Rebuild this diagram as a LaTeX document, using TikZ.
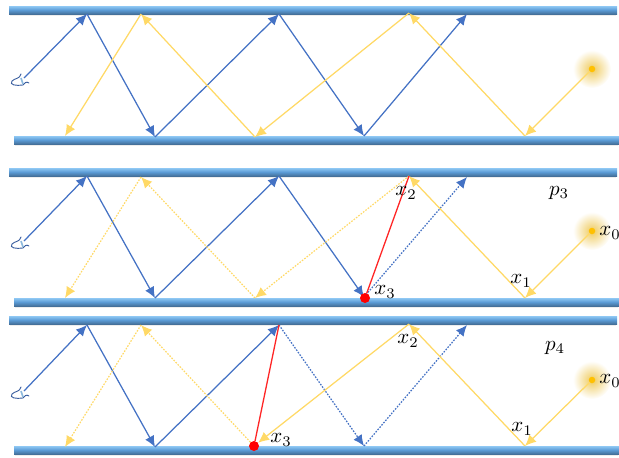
\documentclass[tikz,border=0pt]{standalone}
\usepackage{graphicx}
\usetikzlibrary{arrows.meta,positioning}
\definecolor{ablue}{HTML}{4472C4}
\definecolor{ayel}{HTML}{FFD966}
\definecolor{barmid}{HTML}{5B9BD5}
\definecolor{bartop}{HTML}{8FC8F4}
\definecolor{bardark}{HTML}{44709A}
\definecolor{glow}{HTML}{EFCB5E}
\definecolor{lightc}{HTML}{FFC000}
\tikzset{
  x=1pt,y=-1pt,
  barshade/.style={top color=bartop,bottom color=bardark,middle color=barmid,draw=none,shading angle=0},
  blueray/.style={draw=ablue,line width=1.25pt,-{Latex[length=11pt,width=10pt]}},
  yelray/.style={draw=ayel,line width=1.25pt,-{Latex[length=11pt,width=10pt]}},
  bluedot/.style={blueray,dash pattern=on 1.6pt off 1.4pt},
  yeldot/.style={yelray,dash pattern=on 1.6pt off 1.4pt,line width=1.2pt},
  redray/.style={draw=red!85!white,line width=1.3pt},
  hit/.style={circle,fill=red,inner sep=0pt,minimum size=10pt},
  src/.style={circle,fill=lightc,inner sep=0pt,minimum size=6.5pt},
  lab/.style={inner sep=0pt},
  eyeline/.style={draw=ablue!80!black,line width=.9pt,line cap=round}
}
\newcommand{\wgm}[1]{\scalebox{2.1}{$#1$}}
\newcommand{\wgbar}[4]{% name, x0, x1, ytop
  \fill[black!7] (#2+1,#4+8) rectangle (#3-1,#4+10);
  \shade[barshade] (#2,#4) rectangle (#3,#4+8);
  \coordinate (#1) at (#2,#4);
}
\newcommand{\wgeye}[3]{% name, x, y (point where ray starts)
  \coordinate (#1) at (#2,#3);
  \draw[eyeline] (#2-3,#3-4) .. controls (#2-4,#3+1) and (#2-9,#3) .. (#2-12,#3+3)
     .. controls (#2-15,#3+7) and (#2-8,#3+8) .. (#2-1,#3+7) .. controls (#2+1,#3+5) and (#2+2,#3+3) .. (#2+5,#3+5);
  \draw[line width=1.6pt,draw=bartop!80!gray] (#2-3,#3) -- (#2-1,#3+6);
}
\newcommand{\wgglow}[3]{% name,x,y
  \shade[inner color=glow,outer color=white] (#2,#3) circle (19);
  \node[src] (#1) at (#2,#3) {};
}
\begin{document}
\begin{tikzpicture}
\useasboundingbox (0,0) rectangle (619,458);
% ---------- panel 1
\wgbar{ba}{9}{617}{6}
\wgbar{bb}{14}{619}{136}
\wgglow{La}{592}{69}
\wgeye{Ea}{24}{78}
\foreach \n/\x/\y in {a1/87/14,a2/155/137,a3/279/14,a4/364/136,a5/467/14,
  c1/525/136,c2/409/13,c3/255/137,c4/141/14,c5/65/136}
  {\coordinate (\n) at (\x,\y);}
\draw[blueray] (Ea) -- (a1);
\draw[blueray] (a1) -- (a2);
\draw[blueray] (a2) -- (a3);
\draw[blueray] (a3) -- (a4);
\draw[blueray] (a4) -- (a5);
\draw[yelray] (La) -- (c1);
\draw[yelray] (c1) -- (c2);
\draw[yelray] (c2) -- (c3);
\draw[yelray] (c3) -- (c4);
\draw[yelray] (c4) -- (c5);
% ---------- panel 2
\wgbar{bc}{9}{617}{168}
\wgbar{bd}{14}{619}{298}
\wgglow{Lb}{592}{231}
\wgeye{Eb}{24}{241}
\foreach \n/\x/\y in {d1/87/176,d2/155/298,d3/279/176,d4/364/297,d5/467/177,
  e1/525/298,e2/409/176,e3/255/298,e4/141/177,e5/65/298}
  {\coordinate (\n) at (\x,\y);}
\draw[blueray] (Eb) -- (d1);
\draw[blueray] (d1) -- (d2);
\draw[blueray] (d2) -- (d3);
\draw[blueray] (d3) -- (d4);
\draw[bluedot] (d4) -- (d5);
\draw[yelray] (Lb) -- (e1);
\draw[yelray] (e1) -- (e2);
\draw[yeldot] (e2) -- (e3);
\draw[yeldot] (e3) -- (e4);
\draw[yeldot] (e4) -- (e5);
\node[hit] (hb) at (365,298) {};
\draw[redray] (hb) -- (e2);
\node[lab] (x0b) at (610,233) {\wgm{x_0}};
\node[lab] (x1b) at (521,281) {\wgm{x_1}};
\node[lab] (x2b) at (406,193) {\wgm{x_2}};
\node[lab] (x3b) at (385,292) {\wgm{x_3}};
\node[lab] (p3) at (559,193) {\wgm{p_3}};
% ---------- panel 3
\wgbar{be}{9}{617}{316}
\wgbar{bf}{14}{619}{446}
\wgglow{Lc}{592}{380}
\wgeye{Ec}{24}{391}
\foreach \n/\x/\y in {f1/87/325,f2/155/447,f3/279/325,f4/364/446,f5/467/325,
  g1/525/446,g2/409/324,g4/141/325,g5/65/447}
  {\coordinate (\n) at (\x,\y);}
\draw[blueray] (Ec) -- (f1);
\draw[blueray] (f1) -- (f2);
\draw[blueray] (f2) -- (f3);
\draw[bluedot] (f3) -- (f4);
\draw[bluedot] (f4) -- (f5);
\draw[yelray] (Lc) -- (g1);
\draw[yelray] (g1) -- (g2);
\node[hit] (hc) at (254,446) {};
\draw[yelray] (g2) -- (hc);
\draw[yeldot] (hc) -- (g4);
\draw[yeldot] (g4) -- (g5);
\draw[redray] (hc) -- (f3);
\node[lab] (x0c) at (610,381) {\wgm{x_0}};
\node[lab] (x1c) at (522,429) {\wgm{x_1}};
\node[lab] (x2c) at (408,341) {\wgm{x_2}};
\node[lab] (x3c) at (281,440) {\wgm{x_3}};
\node[lab] (p4) at (555,348) {\wgm{p_4}};
\end{tikzpicture}
\end{document}
